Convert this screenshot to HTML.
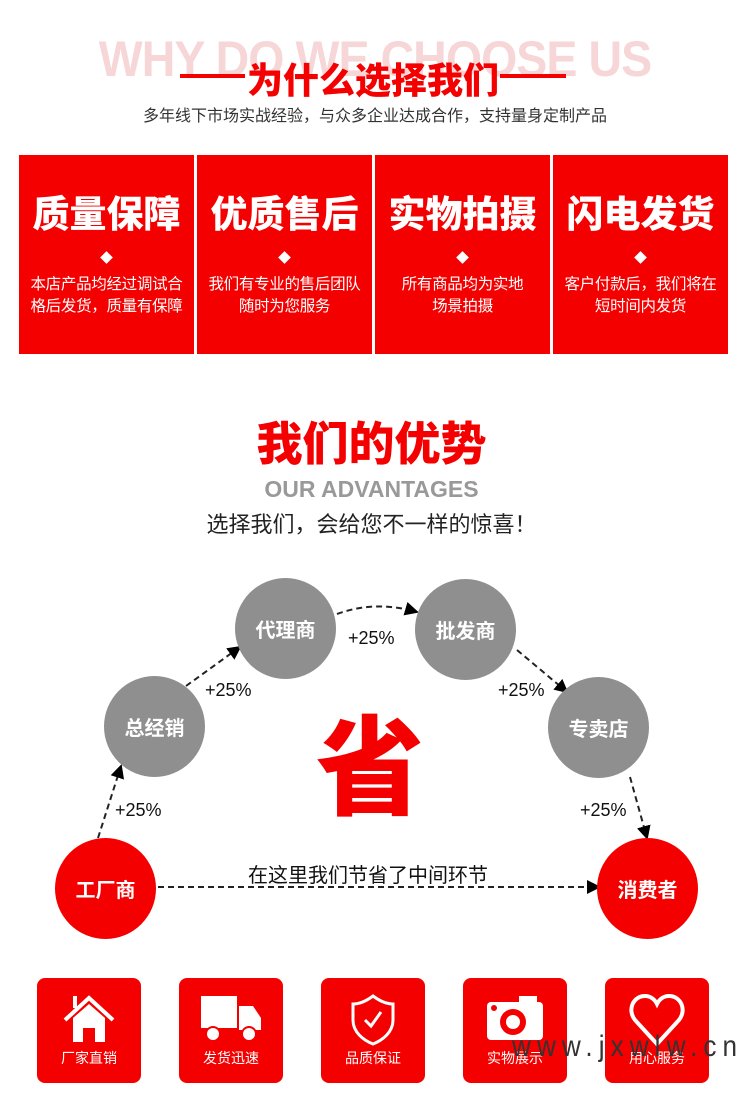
<!DOCTYPE html>
<html><head><meta charset="utf-8"><style>
body{margin:0;width:750px;height:1094px;background:#fff;position:relative;overflow:hidden;font-family:"Liberation Sans","Noto Sans CJK SC",sans-serif}
.a{position:absolute;white-space:nowrap}
.card{position:absolute;top:155px;width:175px;height:199px;background:#f40000;color:#fff;text-align:center}
.card h3{margin:38px 0 0;font-size:37px;font-weight:900;line-height:44px}
.card .d{width:9px;height:9px;background:#fff;transform:rotate(45deg);margin:16px auto 0}
.card p{margin:12px 0 0;font-size:15.5px;line-height:22px;letter-spacing:-0.3px}
.c{position:absolute;width:101px;height:101px;border-radius:50%;color:#fff;font-size:20px;font-weight:bold;display:flex;align-items:center;justify-content:center}
.g{background:#8f8f8f}.r{background:#f40000}
.ic{position:absolute;top:978px;width:104px;height:105px;border-radius:8px;background:#f40000;color:#fff;font-size:14px;text-align:center}
.ic span{position:absolute;left:0;right:0;top:70px}
.ic svg{position:absolute;left:22px;top:14px}
</style></head><body>
<div class="a" style="left:0;width:750px;top:30px;text-align:center;font-size:50px;font-weight:bold;color:#f7d6d8;transform:scaleX(0.93);letter-spacing:-1px">WHY DO WE CHOOSE US</div>
<div class="a" style="left:180px;top:74px;width:65px;height:4px;background:#f40000"></div>
<div class="a" style="left:500px;top:74px;width:66px;height:4px;background:#f40000"></div>
<div class="a" style="left:245px;top:52px;font-size:36px;font-weight:900;color:#f40000;width:256px;text-align:center">为什么选择我们</div>
<div class="a" style="left:0;width:750px;top:102px;text-align:center;font-size:16px;color:#333">多年线下市场实战经验，与众多企业达成合作，支持量身定制产品</div>

<div class="card" style="left:19px"><h3>质量保障</h3><div class="d"></div><p>本店产品均经过调试合<br>格后发货，质量有保障</p></div>
<div class="card" style="left:197px"><h3>优质售后</h3><div class="d"></div><p>我们有专业的售后团队<br>随时为您服务</p></div>
<div class="card" style="left:375px"><h3>实物拍摄</h3><div class="d"></div><p>所有商品均为实地<br>场景拍摄</p></div>
<div class="card" style="left:553px"><h3>闪电发货</h3><div class="d"></div><p>客户付款后，我们将在<br>短时间内发货</p></div>

<div class="a" style="left:0;width:743px;top:408px;text-align:center;font-size:46px;font-weight:900;color:#f40000">我们的优势</div>
<div class="a" style="left:0;width:743px;top:476px;text-align:center;font-size:23px;font-weight:bold;color:#999">OUR ADVANTAGES</div>
<div class="a" style="left:0;width:743px;top:507px;text-align:center;font-size:22px;color:#222">选择我们，会给您不一样的惊喜！</div>

<svg class="a" style="left:0;top:0" width="750" height="1094">
<defs><marker id="m" markerWidth="14" markerHeight="14" refX="12" refY="7" orient="auto" markerUnits="userSpaceOnUse"><path d="M0,0 L14,7 L0,14 z" fill="#000"/></marker></defs>
<g stroke="#222" stroke-width="2" stroke-dasharray="6,4" fill="none" marker-end="url(#m)">
<path d="M98,838 L121,766"/>
<path d="M186,686 L240,647"/>
<path d="M337,614 Q375,600 417,612"/>
<path d="M517,650 L567,692"/>
<path d="M630,777 L647,838"/>
<path d="M158,887 L599,887"/>
</g></svg>
<div class="c r" style="left:55px;top:838px">工厂商</div>
<div class="c g" style="left:104px;top:676px">总经销</div>
<div class="c g" style="left:235px;top:578px">代理商</div>
<div class="c g" style="left:415px;top:579px">批发商</div>
<div class="c g" style="left:548px;top:677px">专卖店</div>
<div class="c r" style="left:597px;top:838px">消费者</div>
<div class="a" style="left:316px;top:682px;font-size:108px;font-weight:900;color:#f40000">省</div>
<div class="a" style="left:115px;top:800px;font-size:18px;color:#111">+25%</div>
<div class="a" style="left:205px;top:680px;font-size:18px;color:#111">+25%</div>
<div class="a" style="left:348px;top:628px;font-size:18px;color:#111">+25%</div>
<div class="a" style="left:498px;top:680px;font-size:18px;color:#111">+25%</div>
<div class="a" style="left:580px;top:800px;font-size:18px;color:#111">+25%</div>
<div class="a" style="left:248px;top:859px;font-size:20px;color:#111">在这里我们节省了中间环节</div>

<div class="ic" style="left:37px"><svg width="60" height="56" viewBox="0 0 60 56"><path d="M6,28 L30,6 L54,28" stroke="#fff" stroke-width="4" fill="none"/><path d="M14,26 L30,12 L46,26 L46,50 L36,50 L36,36 L24,36 L24,50 L14,50z" fill="#fff"/><rect x="14" y="4" width="4" height="12" fill="#fff"/></svg><span>厂家直销</span></div>
<div class="ic" style="left:179px"><svg width="62" height="56" viewBox="0 0 62 56"><rect x="0" y="4" width="36" height="32" fill="#fff"/><path d="M38,14 L52,14 L60,26 L60,38 L38,38z" fill="#fff"/><circle cx="12" cy="42" r="7" fill="#fff" stroke="#f40000" stroke-width="2"/><circle cx="48" cy="42" r="7" fill="#fff" stroke="#f40000" stroke-width="2"/></svg><span>发货迅速</span></div>
<div class="ic" style="left:321px"><svg width="60" height="56" viewBox="0 0 60 56"><path d="M30,4 C22,10 16,12 10,12 L10,28 C10,40 20,48 30,52 C40,48 50,40 50,28 L50,12 C44,12 38,10 30,4z" stroke="#fff" stroke-width="3" fill="none"/><path d="M22,28 L28,34 L38,20" stroke="#fff" stroke-width="3" fill="none"/></svg><span>品质保证</span></div>
<div class="ic" style="left:463px"><svg width="62" height="56" viewBox="0 0 62 56"><rect x="2" y="10" width="56" height="38" rx="4" fill="#fff"/><rect x="34" y="4" width="18" height="8" fill="#fff"/><circle cx="28" cy="30" r="13" fill="#f40000"/><circle cx="28" cy="30" r="7" fill="#fff"/><circle cx="9" cy="16" r="3" fill="#f40000"/></svg><span>实物展示</span></div>
<div class="ic" style="left:605px"><svg width="60" height="56" viewBox="0 0 60 56"><path d="M30,52 L8,28 C0,18 6,4 18,4 C24,4 28,8 30,12 C32,8 36,4 42,4 C54,4 60,18 52,28z" stroke="#fff" stroke-width="4" fill="none"/></svg><span>用心服务</span></div>
<div class="a" style="left:512px;top:1030px;font-family:'Liberation Sans',sans-serif;font-size:30px;color:#333;letter-spacing:7px;transform:scaleX(0.87);transform-origin:left">www.jxwlw.cn</div>
</body></html>
